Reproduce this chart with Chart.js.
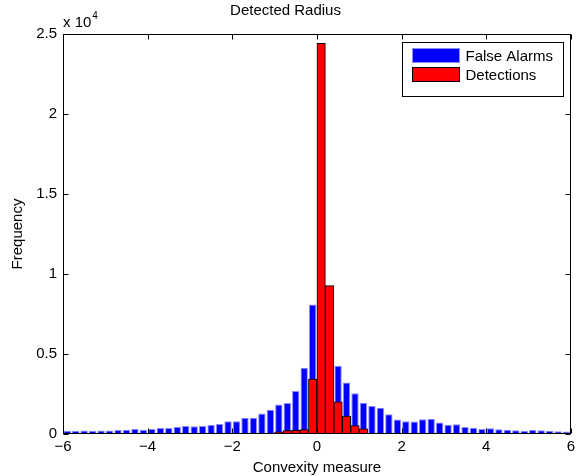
<!DOCTYPE html>
<html>
<head>
<meta charset="utf-8">
<script src="https://cdn.jsdelivr.net/npm/chart.js@4"></script>
<style>
  html, body { margin: 0; padding: 0; background: #fff; }
  canvas { display: block; }
</style>
</head>
<body>
<canvas id="histChart" width="579" height="476"></canvas>
<script>
// Histogram bins (centres, width 0.2)
const binCenters = [
  -5.9, -5.7, -5.5, -5.3, -5.1, -4.9, -4.7, -4.5, -4.3, -4.1,
  -3.9, -3.7, -3.5, -3.3, -3.1, -2.9, -2.7, -2.5, -2.3, -2.1,
  -1.9, -1.7, -1.5, -1.3, -1.1, -0.9, -0.7, -0.5, -0.3, -0.1,
  0.1, 0.3, 0.5, 0.7, 0.9, 1.1, 1.3, 1.5, 1.7, 1.9,
  2.1, 2.3, 2.5, 2.7, 2.9, 3.1, 3.3, 3.5, 3.7, 3.9,
  4.1, 4.3, 4.5, 4.7, 4.9, 5.1, 5.3, 5.5, 5.7, 5.9
];

// Counts per bin
const falseAlarms = [
  200, 200, 220, 200, 220, 220, 250, 270, 310, 270,
  310, 370, 375, 460, 500, 480, 500, 560, 625, 790,
  790, 1020, 1010, 1280, 1510, 1850, 1940, 2690, 4140, 8090,
  9000, 6000, 4270, 3220, 2540, 1960, 1750, 1635, 1240, 900,
  800, 780, 917, 950, 720, 575, 604, 440, 385, 315,
  365, 300, 260, 240, 200, 250, 229, 200, 178, 156
];
const detections = [
  0, 0, 0, 0, 0, 0, 0, 0, 0, 0,
  0, 0, 0, 0, 0, 0, 0, 0, 0, 0,
  0, 0, 0, 0, 40, 140, 220, 235, 275, 3440,
  24420, 9270, 2010, 1115, 530, 320, 40, 0, 0, 0,
  60, 0, 0, 0, 0, 0, 0, 0, 0, 0,
  0, 0, 0, 0, 0, 0, 0, 0, 0, 0
];

// Axis ticks
const xTicks = [-6, -4, -2, 0, 2, 4, 6];
const yTicks = [0, 5000, 10000, 15000, 20000, 25000];

const FONT = "'Liberation Sans', Arial, Helvetica, sans-serif";
Chart.defaults.font.family = FONT;
Chart.defaults.font.size = 15;
Chart.defaults.color = '#000';

// MATLAB style box, inward ticks, exponent label and legend
const matlabAxes = {
  id: 'matlabAxes',
  afterDatasetsDraw(chart) {
    const { ctx, chartArea: a, scales } = chart;
    const L = Math.round(a.left) + 0.5, R = Math.round(a.right) - 0.5;
    const T = Math.round(a.top) + 0.5, B = Math.round(a.bottom) - 0.5;
    ctx.save();
    ctx.strokeStyle = '#000';
    ctx.lineWidth = 1;
    ctx.strokeRect(L, T, R - L, B - T);
    const len = 5;
    ctx.beginPath();
    xTicks.forEach(v => {
      const px = Math.round(scales.x.getPixelForValue(v)) + 0.5;
      ctx.moveTo(px, B); ctx.lineTo(px, B - len);
      ctx.moveTo(px, T); ctx.lineTo(px, T + len);
    });
    yTicks.forEach(v => {
      const py = Math.round(scales.y.getPixelForValue(v)) + 0.5;
      ctx.moveTo(L, py); ctx.lineTo(L + len, py);
      ctx.moveTo(R, py); ctx.lineTo(R - len, py);
    });
    ctx.stroke();
    ctx.restore();
  },
  afterDraw(chart) {
    const { ctx, chartArea: a } = chart;
    ctx.save();
    // exponent label
    ctx.fillStyle = '#000';
    ctx.textBaseline = 'alphabetic';
    ctx.textAlign = 'left';
    ctx.font = '15px ' + FONT;
    ctx.fillText('x 10', a.left, a.top - 7);
    const w = ctx.measureText('x 10').width;
    ctx.font = '10px ' + FONT;
    ctx.fillText('4', a.left + w + 1, a.top - 15);

    // legend
    const items = chart.data.datasets.map(d => ({ text: d.label, fill: d.backgroundColor, edge: d.legendEdge }));
    ctx.font = '15px ' + FONT;
    const maxW = Math.max(...items.map(i => ctx.measureText(i.text).width));
    const sw = 47, sh = 14, rowH = 19;
    const boxW = Math.round(10 + sw + 6 + maxW + 10);
    const boxH = 54;
    const bx = Math.round(a.right) - 8 - boxW + 0.5;
    const by = Math.round(a.top) + 8 + 0.5;
    ctx.fillStyle = '#fff';
    ctx.fillRect(bx, by, boxW, boxH);
    ctx.strokeStyle = '#000';
    ctx.lineWidth = 1;
    ctx.strokeRect(bx, by, boxW, boxH);
    items.forEach((it, i) => {
      const sy = by + 6 + i * rowH;
      ctx.fillStyle = it.fill;
      ctx.fillRect(bx + 10, sy, sw, sh);
      ctx.strokeStyle = it.edge;
      ctx.strokeRect(bx + 10, sy, sw, sh);
      ctx.fillStyle = '#000';
      ctx.textBaseline = 'middle';
      ctx.fillText(it.text, bx + 10 + sw + 6, sy + sh / 2 + 1);
    });
    ctx.restore();
  }
};

const ctx = document.getElementById('histChart').getContext('2d');
new Chart(ctx, {
  type: 'bar',
  data: {
    datasets: [
      {
        label: 'False Alarms',
        data: binCenters.map((c, i) => ({ x: c, y: falseAlarms[i] })),
        backgroundColor: '#0000ff',
        borderColor: '#8c8cff',
        legendEdge: '#8c8cff',
        borderWidth: 1,
        borderSkipped: 'start',
        grouped: false,
        categoryPercentage: 1,
        barPercentage: 0.87,
        order: 1
      },
      {
        label: 'Detections',
        data: binCenters.map((c, i) => ({ x: c, y: detections[i] })),
        backgroundColor: '#ff0000',
        borderColor: '#000000',
        legendEdge: '#000000',
        borderWidth: 1,
        borderSkipped: false,
        grouped: false,
        categoryPercentage: 1,
        barPercentage: 1,
        order: 0
      }
    ]
  },
  options: {
    responsive: false,
    animation: false,
    layout: { padding: { left: 0, right: 8, top: 0, bottom: 0 } },
    plugins: {
      legend: { display: false },
      tooltip: { enabled: false },
      title: {
        display: true,
        text: 'Detected Radius',
        font: { size: 15, weight: 'normal' },
        color: '#000',
        padding: { top: 2, bottom: 14 }
      }
    },
    scales: {
      x: {
        type: 'linear',
        min: -6,
        max: 6,
        offset: false,
        afterFit: s => { s.height = 42; },
        afterBuildTicks: s => { s.ticks = xTicks.map(v => ({ value: v })); },
        ticks: {
          autoSkip: false,
          maxRotation: 0,
          padding: 4,
          color: '#000',
          callback: v => (v < 0 ? '\u2212' + Math.abs(v) : String(v))
        },
        grid: { display: false, drawTicks: false },
        border: { display: false },
        title: {
          display: true,
          text: 'Convexity measure',
          color: '#000',
          padding: { top: 0, bottom: -1 }
        }
      },
      y: {
        min: 0,
        max: 25000,
        afterFit: s => { s.width = 63; },
        afterBuildTicks: s => { s.ticks = yTicks.map(v => ({ value: v })); },
        ticks: {
          padding: 6,
          color: '#000',
          callback: v => String(v / 10000)
        },
        grid: { display: false, drawTicks: false },
        border: { display: false },
        title: {
          display: true,
          text: 'Frequency',
          color: '#000',
          padding: { top: 9, bottom: 0 }
        }
      }
    }
  },
  plugins: [matlabAxes]
});
</script>
</body>
</html>
